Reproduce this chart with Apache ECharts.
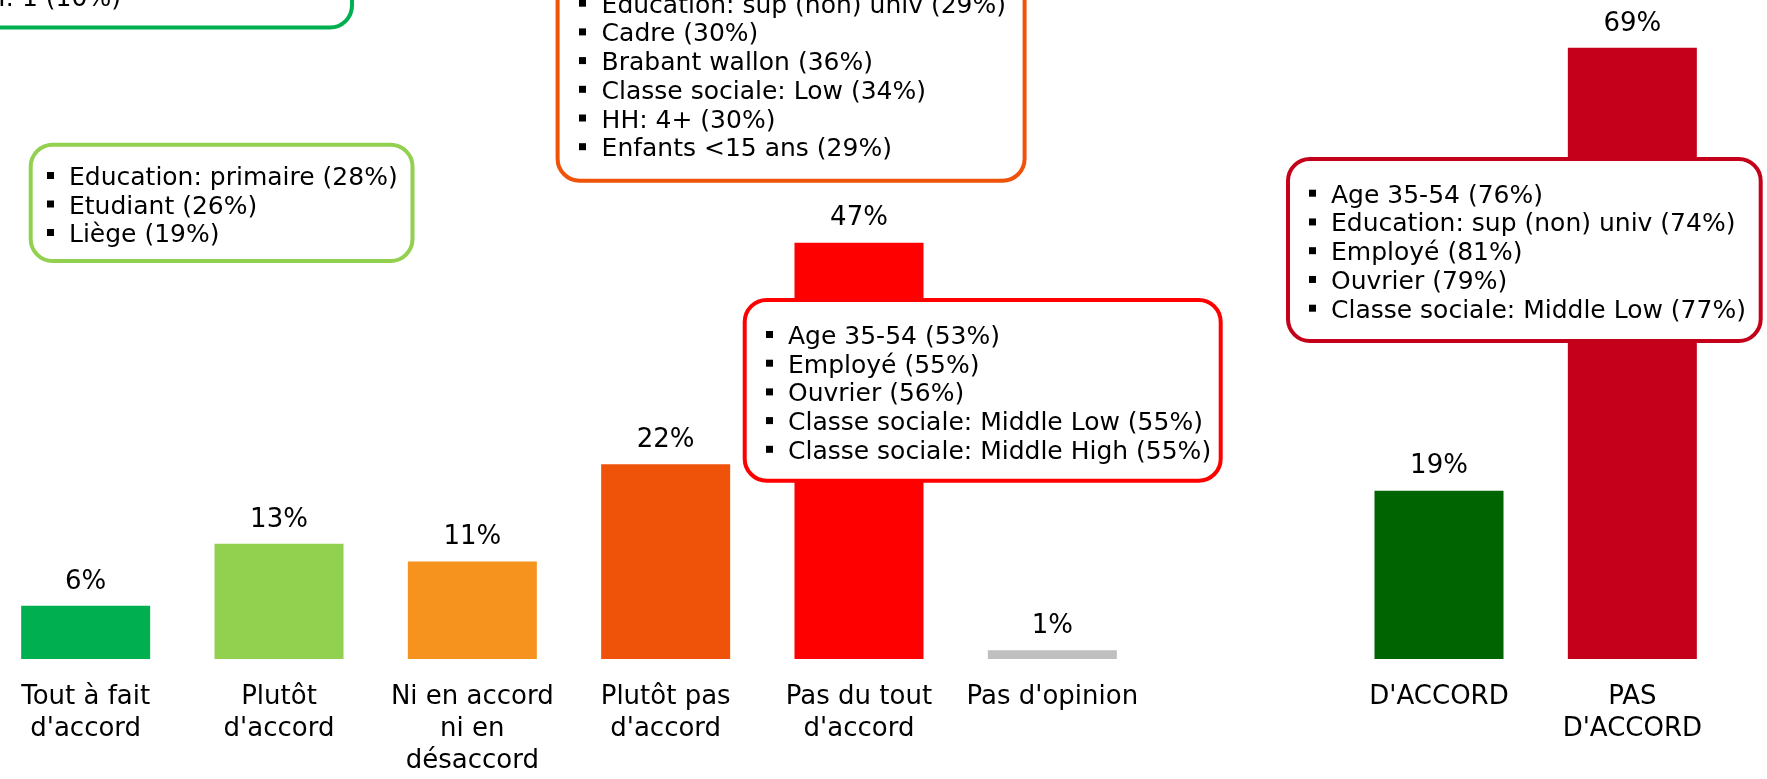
<!DOCTYPE html>
<html>
<head>
<meta charset="utf-8">
<script src="https://cdn.jsdelivr.net/npm/echarts@6/dist/echarts.min.js"></script>
<style>
  html, body { margin: 0; padding: 0; background: #fff; }
  #chart { width: 1767px; height: 779px; }
</style>
</head>
<body>
<div id="chart"></div>
<script>
// catégories (la 7e est un espace vide entre les deux groupes)
const categories = [
  "Tout à fait\nd'accord",
  "Plutôt\nd'accord",
  "Ni en accord\nni en\ndésaccord",
  "Plutôt pas\nd'accord",
  "Pas du tout\nd'accord",
  "Pas d'opinion",
  "",
  "D'ACCORD",
  "PAS\nD'ACCORD"
];
const values = [6, 13, 11, 22, 47, 1, null, 19, 69];
const barColors = ['#00B050', '#92D050', '#F6921E', '#EF530A', '#FF0000', '#BFBFBF', '#fff', '#006400', '#C4001A'];

// profils en surreprésentation
const notesToutAFait = ["HH: 1 (10%)"];
const notesPlutot = ["Education: primaire (28%)", "Etudiant (26%)", "Liège (19%)"];
const notesPlutotPas = [
  "Education: sup (non) univ (29%)",
  "Cadre (30%)",
  "Brabant wallon (36%)",
  "Classe sociale: Low (34%)",
  "HH: 4+ (30%)",
  "Enfants <15 ans (29%)"
];
const notesPasDuTout = [
  "Age 35-54 (53%)",
  "Employé (55%)",
  "Ouvrier (56%)",
  "Classe sociale: Middle Low (55%)",
  "Classe sociale: Middle High (55%)"
];
const notesPasDAccord = [
  "Age 35-54 (76%)",
  "Education: sup (non) univ (74%)",
  "Employé (81%)",
  "Ouvrier (79%)",
  "Classe sociale: Middle Low (77%)"
];

const FONT = 'DejaVu Sans, Verdana, sans-serif';

// encadré arrondi avec liste à puces
function noteBox(box, color, lines, firstBaseline, lineStep, bulletX, textX) {
  let children = [{
    type: 'rect',
    z: 100,
    shape: { x: box[0] + 2, y: box[1] + 2, width: box[2] - box[0] - 4, height: box[3] - box[1] - 4, r: 22 },
    style: { fill: '#fff', stroke: color, lineWidth: 4 }
  }];
  lines.forEach((txt, i) => {
    let base = firstBaseline + i * lineStep;
    children.push({
      type: 'rect',
      z: 101,
      shape: { x: bulletX - 3, y: base - 12, width: 7, height: 7 },
      style: { fill: '#000' }
    });
    children.push({
      type: 'text',
      z: 101,
      style: {
        text: txt,
        x: textX,
        y: base - 5.5,
        fontSize: 25,
        fontFamily: FONT,
        fill: '#000',
        verticalAlign: 'middle'
      }
    });
  });
  return { type: 'group', z: 100, children: children };
}

let chart = echarts.init(document.getElementById('chart'));
let option = {
  animation: false,
  grid: { left: -11, right: 38, top: 39, bottom: 120, outerBoundsMode: 'none' },
  xAxis: {
    type: 'category',
    data: categories,
    axisLine: { show: false },
    axisTick: { show: false },
    axisLabel: {
      interval: 0,
      margin: 22,
      color: '#000',
      fontSize: 26,
      lineHeight: 32,
      fontFamily: FONT
    }
  },
  yAxis: {
    type: 'value',
    min: 0,
    max: 70,
    show: false,
    splitLine: { show: false }
  },
  series: [{
    type: 'bar',
    barWidth: 129,
    z: 2,
    data: values.map((v, i) => ({ value: v, itemStyle: { color: barColors[i] } })),
    label: {
      show: true,
      position: 'top',
      distance: 11,
      color: '#000',
      fontSize: 26,
      lineHeight: 26,
      fontFamily: FONT,
      formatter: p => p.value == null ? '' : p.value + '%'
    }
  }],
  graphic: [
    noteBox([-90, -100, 354, 29.5], '#00B050', notesToutAFait, 5, 28.7, -51, -32),
    noteBox([28.7, 142.7, 414.5, 263], '#92D050', notesPlutot, 184, 28.5, 50, 69),
    noteBox([555.6, -60, 1026.6, 182.7], '#EF530A', notesPlutotPas, 11.7, 28.7, 582, 601.6),
    noteBox([742.7, 298, 1222.7, 482.7], '#FF0000', notesPasDuTout, 343, 28.7, 769, 788),
    noteBox([1286, 157, 1762.7, 343], '#C4001A', notesPasDAccord, 201.7, 28.75, 1312, 1331)
  ]
};
chart.setOption(option);
</script>
</body>
</html>
